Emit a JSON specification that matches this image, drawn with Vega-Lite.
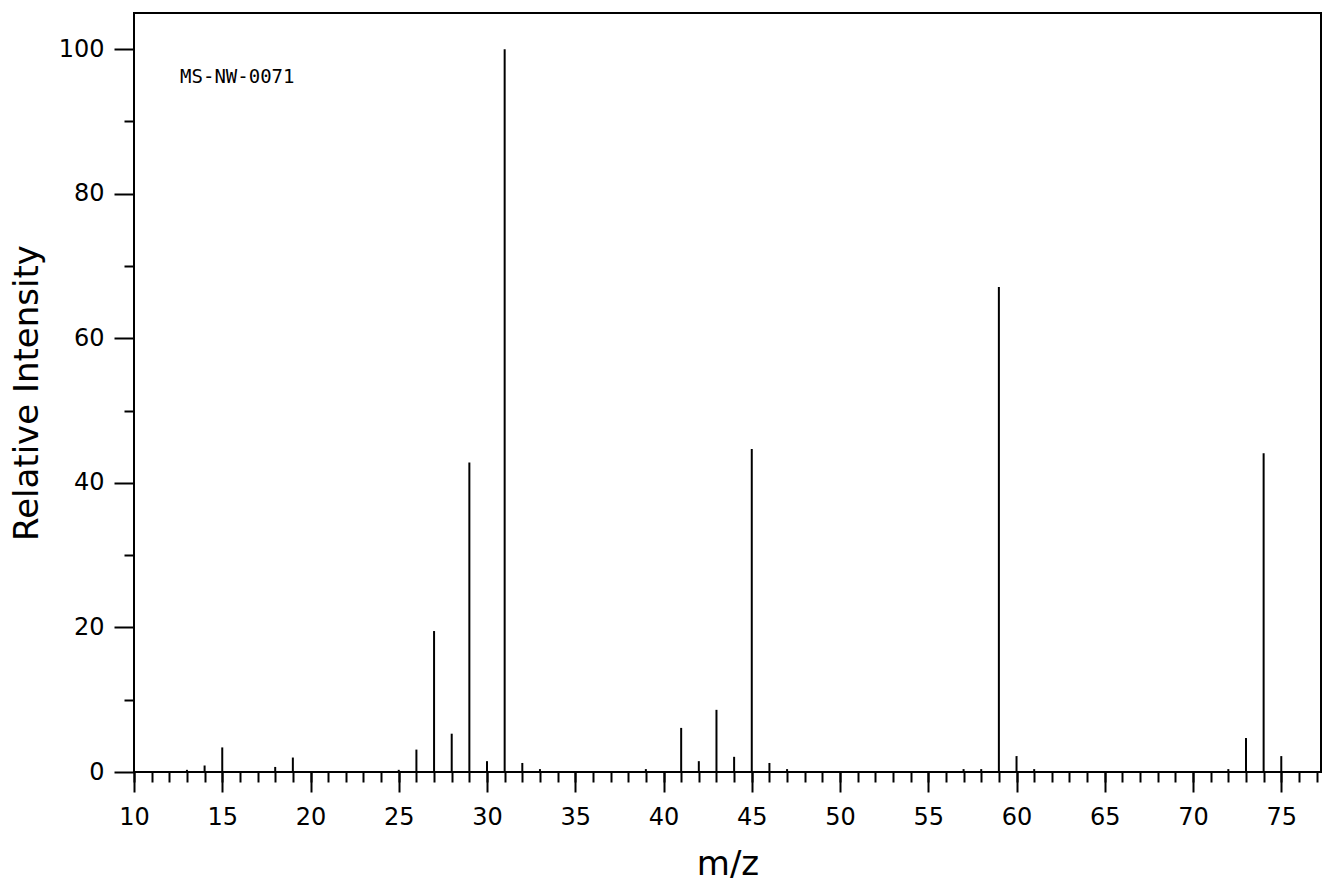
{
  "$schema": "https://vega.github.io/schema/vega-lite/v6.json",
  "autosize": {"type": "none"},
  "width": 1187,
  "height": 759,
  "padding": {"left": 134, "top": 13, "right": 7, "bottom": 112},
  "background": "white",
  "config": {
    "view": {"stroke": "black", "strokeWidth": 2},
    "axis": {
      "domain": false,
      "grid": false,
      "tickColor": "black",
      "tickWidth": 2,
      "labelColor": "black",
      "labelFont": "DejaVu Sans",
      "labelFontSize": 24,
      "labelFontWeight": "normal",
      "labelFlush": false,
      "labelOverlap": false,
      "labelBound": false,
      "titleColor": "black",
      "titleFont": "DejaVu Sans",
      "titleFontWeight": "normal"
    }
  },
  "datasets": {
    "peaks": [
      {"mz": 13, "intensity": 0.3},
      {"mz": 14, "intensity": 0.9},
      {"mz": 15, "intensity": 3.4},
      {"mz": 18, "intensity": 0.7},
      {"mz": 19, "intensity": 2.0},
      {"mz": 25, "intensity": 0.3},
      {"mz": 26, "intensity": 3.1},
      {"mz": 27, "intensity": 19.5},
      {"mz": 28, "intensity": 5.3},
      {"mz": 29, "intensity": 42.8},
      {"mz": 30, "intensity": 1.5},
      {"mz": 31, "intensity": 100},
      {"mz": 32, "intensity": 1.25},
      {"mz": 33, "intensity": 0.4},
      {"mz": 39, "intensity": 0.4},
      {"mz": 41, "intensity": 6.1},
      {"mz": 42, "intensity": 1.5},
      {"mz": 43, "intensity": 8.6},
      {"mz": 44, "intensity": 2.1},
      {"mz": 45, "intensity": 44.7},
      {"mz": 46, "intensity": 1.25},
      {"mz": 47, "intensity": 0.4},
      {"mz": 57, "intensity": 0.4},
      {"mz": 58, "intensity": 0.4},
      {"mz": 59, "intensity": 67.1},
      {"mz": 60, "intensity": 2.2},
      {"mz": 61, "intensity": 0.4},
      {"mz": 72, "intensity": 0.4},
      {"mz": 73, "intensity": 4.7},
      {"mz": 74, "intensity": 44.1},
      {"mz": 75, "intensity": 2.2}
    ]
  },
  "layer": [
    {
      "data": {"name": "peaks"},
      "mark": {"type": "rule", "color": "black", "strokeWidth": 2},
      "encoding": {
        "x": {
          "field": "mz",
          "type": "quantitative",
          "scale": {"domain": [10, 77.25], "nice": false, "zero": false},
          "axis": {
            "orient": "bottom",
            "values": [10,11,12,13,14,15,16,17,18,19,20,21,22,23,24,25,26,27,28,29,30,31,32,33,34,35,36,37,38,39,40,41,42,43,44,45,46,47,48,49,50,51,52,53,54,55,56,57,58,59,60,61,62,63,64,65,66,67,68,69,70,71,72,73,74,75,76,77],
            "tickSize": 10,
            "labels": false,
            "title": null
          }
        },
        "y": {
          "field": "intensity",
          "type": "quantitative",
          "scale": {"domain": [0, 105], "nice": false},
          "axis": {
            "orient": "left",
            "values": [10, 30, 50, 70, 90],
            "tickSize": 10,
            "labels": false,
            "title": null
          }
        },
        "y2": {"datum": 0}
      }
    },
    {
      "data": {"values": [{"label": "MS-NW-0071"}]},
      "mark": {
        "type": "text",
        "align": "left",
        "baseline": "middle",
        "font": "DejaVu Sans Mono",
        "fontSize": 19,
        "color": "black"
      },
      "encoding": {
        "x": {
          "datum": 12.61,
          "type": "quantitative",
          "axis": {
            "orient": "bottom",
            "values": [10, 15, 20, 25, 30, 35, 40, 45, 50, 55, 60, 65, 70, 75],
            "tickSize": 20,
            "labelPadding": 13,
            "title": "m/z",
            "titleFontSize": 34,
            "titlePadding": 18
          }
        },
        "y": {
          "datum": 96.2,
          "type": "quantitative",
          "axis": {
            "orient": "left",
            "values": [0, 20, 40, 60, 80, 100],
            "tickSize": 20,
            "labelPadding": 10,
            "title": "Relative Intensity",
            "titleFontSize": 34,
            "titlePadding": 14
          }
        },
        "text": {"field": "label"}
      }
    }
  ],
  "resolve": {"axis": {"x": "independent", "y": "independent"}}
}
